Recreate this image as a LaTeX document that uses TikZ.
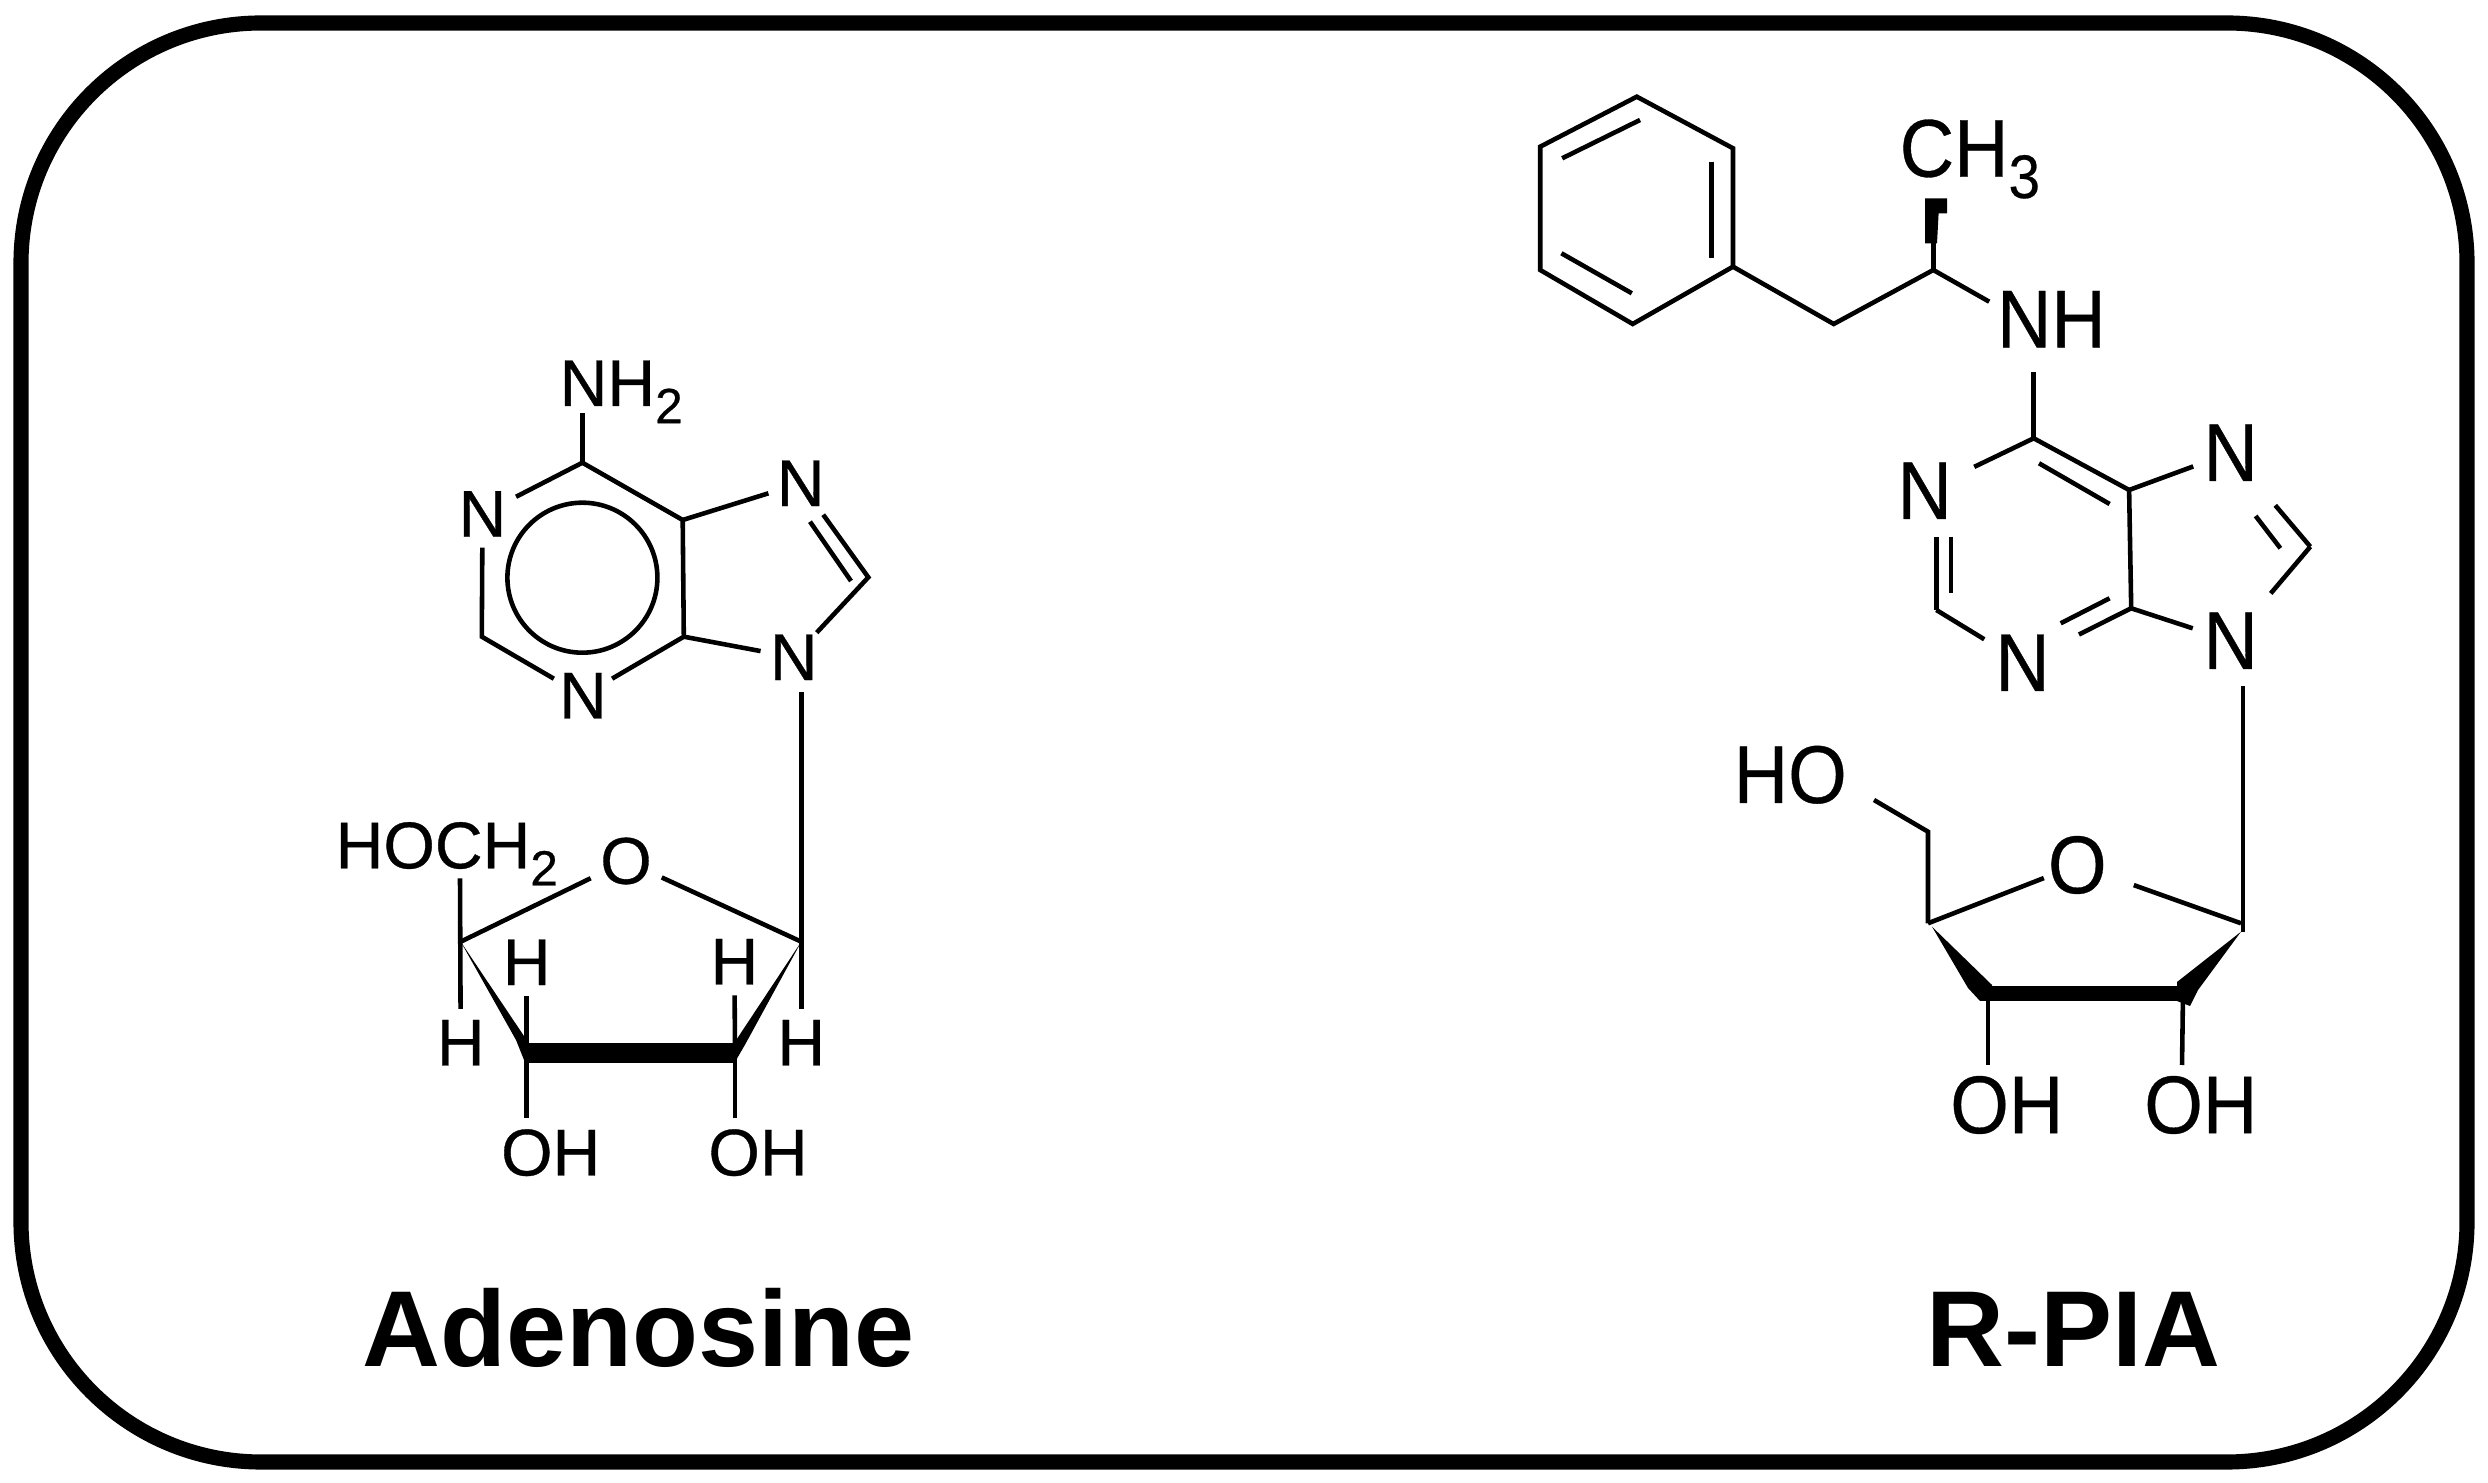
\documentclass[tikz,border=0pt]{standalone}
\usepackage{fontspec}
\setmainfont{Liberation Sans}
\newfontfamily\leftfont[FakeBold=.5]{Liberation Sans}
\newfontfamily\rightfont[FakeStretch=.92,FakeBold=.4]{Liberation Sans}
\newcommand{\subnum}[1]{\raisebox{-.26em}{\scalebox{.75}{#1}}}
\tikzset{
    bond/.style={line width=1.3pt},
    boldbond/.style={line width=#1},
    atoml/.style={circle,inner sep=0pt,minimum size=.66cm,font=\leftfont\fontsize{18.8}{20}\selectfont},
    atomr/.style={circle,inner sep=0pt,minimum size=.7cm,font=\rightfont\fontsize{23.3}{25}\selectfont},
    groupl/.style={inner sep=0pt,font=\leftfont\fontsize{18.8}{20}\selectfont},
    groupr/.style={inner sep=0pt,font=\rightfont\fontsize{23.3}{25}\selectfont},
    titletext/.style={inner sep=0pt,anchor=base west,font=\fontsize{30.7}{32}\selectfont\bfseries}
}
\begin{document}
\begin{tikzpicture}[x=0.01cm,y=-0.01cm]
        \useasboundingbox (0,0) rectangle (2488,1483);
        \draw[line width=4.3pt,rounded corners=2.4cm] (21,23) rectangle (2467,1462);
        \foreach \Name/\Xc/\Yc in {n1l/482.5/514, n3l/583/695.7, n7l/800.6/483.3, n9l/793.7/657.3}{
            \node[atoml] (\Name) at (\Xc,\Yc) {N};
        }
        \foreach \Name/\Xc/\Yc in {hal/460.7/1042.7, hbl/526.6/962.3, hcl/734.4/961.7, hdl/801.3/1042.7}{
            \node[atoml] (\Name) at (\Xc,\Yc) {H};
        }
        \foreach \Name/\Xc/\Yc in {c6l/582.4/462.7, c2l/481.8/636.7, c4l/683.8/636.7, c5l/682.7/520, c8l/868.3/577.3, d7l/810/521.7, d8l/851/581, nhl/582.4/413.3, rcl/582.4/577.7, n9b/801.3/691.7, c1pl/801.3/941.7, c2pl/735/1053.3, c3pl/526.6/1053.3, c4pl/460.7/941.7, hol/460/878.3, oal/526.6/1118.3, obl/735/1118.3}{
            \coordinate (\Name) at (\Xc,\Yc);
        }
        \node[groupl,anchor=base west] (nhtwol) at (559,406) {NH\subnum{2}};
        \node[atoml] (o4l) at (626,861) {O};
        \node[groupl,anchor=base west] (hochl) at (335,868.3) {HOCH\subnum{2}};
        \node[groupl] (ohal) at (550.7,1152.7) {OH};
        \node[groupl] (ohbl) at (758,1152.7) {OH};
        \draw[bond] (nhl)--(c6l);
        \draw[bond,shorten >=.04cm] (c6l)--(n1l);
        \draw[bond] (n1l)--(c2l)--(n3l);
        \draw[bond] (n3l)--(c4l)--(c5l)--(c6l);
        \draw[bond] (c5l)--(n7l);
        \draw[bond,shorten <=.05cm] (n7l)--(c8l)--(n9l);
        \draw[bond] (d7l)--(d8l);
        \draw[bond] (c4l)--(n9l);
        \draw[bond] (n9b)--(hdl);
        \draw[bond] (rcl) circle (75);
        \draw[bond,shorten >=.04cm] (c4pl)--(o4l);
        \draw[bond,shorten >=.04cm] (c1pl)--(o4l);
        \draw[bond] (hol)--(hal);
        \draw[bond] (c3pl)--(hbl);
        \draw[bond] (c2pl)--(hcl);
        \draw[bond] (c3pl)--(oal);
        \draw[bond] (c2pl)--(obl);
        \draw[boldbond=5.7pt] (c3pl)--(c2pl);
        \fill (c4pl)--(516,1040)--(524,1060)--(530,1045)--cycle;
        \fill (c1pl)--(745.8,1043.3)--(735,1062)--(734,1043.3)--cycle;
        \node[titletext] (adenosine) at (362,1366.7) {Adenosine};

        \foreach \Name/\Xc/\Yc in {n1r/1924.7/490.7, n3r/2022.6/662.7, n7r/2230.7/452.7, n9r/2230.7/640.7}{
            \node[atomr] (\Name) at (\Xc,\Yc) {N};
        }
        \foreach \Name/\Xc/\Yc in {pa/1636.8/96.7, pb/1733/148.3, pc/1733/266.7, pd/1632.7/324, pe/1540.2/270, pf/1540.2/146.7, qa/1562.2/158.3, qb/1640/120, qc/1711.4/161.7, qd/1711.4/258.3, qe/1561.4/253.3, qf/1631.8/293.3, ch/1833.7/324, cm/1933.3/270, nhe/1989.2/301.7, nhs/2033.7/371.7}{
            \coordinate (\Name) at (\Xc,\Yc);
        }
        \foreach \Name/\Xc/\Yc in {c6r/2033.7/438.3, c2r/1936.3/610, c4r/2131.2/608.3, c5r/2129.1/490, c8r/2310.3/546.7, da/1950.8/536.7, db/1950.8/593.3, dc/2060.7/623.3, dd/2109.6/598.3, de/2039/463.3, df/2109.6/504, dg/2255.6/516, dh/2280.4/548.3, n1t/1936.3/536.7, n9t/2243/686, c1pr/2243/931.7, c1qr/2241/923.3, c2pr/2183/993.3, c3pr/1988/993.3, c4pr/1928/923.3, c5pr/1928/831.7, hoe/1874/800, oar/1988/1065, obr/2182/1065}{
            \coordinate (\Name) at (\Xc,\Yc);
        }
        \node[groupr,anchor=base west] (chthree) at (1899,176.7) {CH\subnum{3}};
        \node[groupr] (nhr) at (2051.4,319.2) {NH};
        \node[groupr,anchor=base west] (hor) at (1733,803) {HO};
        \node[atomr] (o4r) at (2077.3,865) {O};
        \node[groupr] (ohar) at (2006.8,1105) {OH};
        \node[groupr] (ohbr) at (2200.8,1105) {OH};
        \draw[bond] (pa)--(pb)--(pc)--(pd)--(pe)--(pf)--cycle;
        \draw[bond] (qa)--(qb);
        \draw[bond] (qc)--(qd);
        \draw[bond] (qe)--(qf);
        \draw[bond] (pc)--(ch)--(cm)--(nhe);
        \draw[bond] (cm)--(1933.3,240);
        \fill (1925,198.3)--(1947,198.3)--(1947,213.3)--(1938.6,213.3)--(1937,243.3)--(1925,243.3)--cycle;
        \draw[bond] (nhs)--(c6r);
        \draw[bond,shorten >=.15cm] (c6r)--(n1r);
        \draw[bond] (n1t)--(c2r);
        \draw[bond] (da)--(db);
        \draw[bond,shorten >=.05cm] (c2r)--(n3r);
        \draw[bond,shorten >=.23cm] (c4r)--(n3r);
        \draw[bond] (dc)--(dd);
        \draw[bond] (c4r)--(c5r)--(c6r);
        \draw[bond] (de)--(df);
        \draw[bond] (c5r)--(n7r);
        \draw[bond,shorten >=.29cm] (c8r)--(n7r);
        \draw[bond] (dg)--(dh);
        \draw[bond,shorten >=.22cm] (c8r)--(n9r);
        \draw[bond] (c4r)--(n9r);
        \draw[bond] (n9t)--(c1pr);
        \draw[bond] (hoe)--(c5pr)--(c4pr);
        \draw[bond,shorten >=-.06cm] (c4pr)--(o4r);
        \draw[bond,shorten >=.18cm] (c1qr)--(o4r);
        \draw[bond] (c3pr)--(oar);
        \draw[bond] (c2pr)--(obr);
        \draw[boldbond=4.3pt] (c3pr)--(c2pr);
        \fill (1932,926.7)--(1968,988)--(1980,1001)--(1992,1001)--(1992,985)--cycle;
        \fill (2241,931.7)--(2177,982)--(2177,1001)--(2190,1006)--(2198,990)--cycle;
        \node[titletext] (rpia) at (1926,1366.7) {R-PIA};
\end{tikzpicture}
\end{document}
